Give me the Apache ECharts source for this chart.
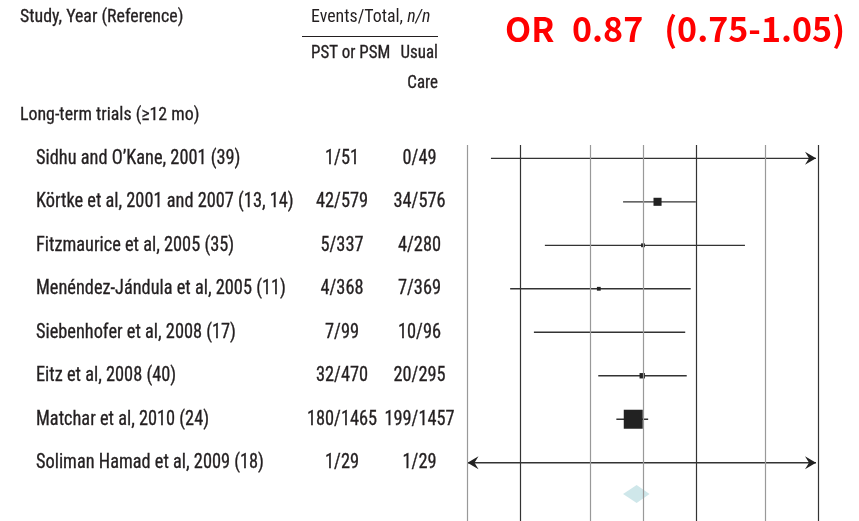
<!DOCTYPE html>
<html><head><meta charset="utf-8">
<script src="https://cdn.jsdelivr.net/npm/echarts@6/dist/echarts.min.js"></script>
<style>html,body{margin:0;padding:0;background:#fff}#c{width:859px;height:521px}</style>
</head><body><div id="c"></div>
<script>
const studies = ["Sidhu and O\u2019Kane, 2001 (39)","K\u00f6rtke et al, 2001 and 2007 (13, 14)","Fitzmaurice et al, 2005 (35)","Men\u00e9ndez-J\u00e1ndula et al, 2005 (11)","Siebenhofer et al, 2008 (17)","Eitz et al, 2008 (40)","Matchar et al, 2010 (24)","Soliman Hamad et al, 2009 (18)"];
const pstEvents = [1,42,5,4,7,32,180,1];
const pstTotal = [51,579,337,368,99,470,1465,29];
const ucEvents = [0,34,4,7,10,20,199,1];
const ucTotal = [49,576,280,369,96,295,1457,29];
const estimates = [null,1.21,1.0,0.56,null,0.99,0.88,null];
const ciLow = [0.136,0.77,0.276,0.175,0.239,0.556,0.705,0.06];
const ciHigh = [60,2.0,3.81,1.87,1.74,1.775,1.07,16.8];
const weights = [0,18,4,4,0,8,100,0];
const pooledOR = 0.92, pooledLow = 0.77, pooledHigh = 1.09;
const refLines = [0.1,0.2,0.5,1,2,5,10];
const titleParts = ["OR", "0.87", "(0.75-1.05)"];

const AX_MIN = 0.1, AX_MAX = 10;
const FAM = '"Liberation Sans Narrow", "Roboto Condensed", Roboto, sans-serif';
const rowFont = '19.5px ' + FAM;
const headFont = '19px ' + FAM;
const subFont = '18px ' + FAM;
const SX = 0.94;
const TXT = '#231f20';
const TITLE_FONT = 'bold 34px "Noto Sans CJK KR", "Noto Sans", sans-serif';
const lineColor = ['#999','#333','#999','#999','#333','#999','#333'];

const chart = echarts.init(document.getElementById('c'), null, {renderer:'canvas'});
const clamp = v => Math.max(AX_MIN, Math.min(AX_MAX, v));

function arrow(tx, y, dir){
  return {type:'polygon', shape:{points:[[tx,y],[tx-dir*11,y-6.5],[tx-dir*7,y],[tx-dir*11,y+6.5]]}, style:{fill:'#222'}};
}
function txt(text, x, y, align, font){
  return {type:'text', x:x, y:y, scaleX:SX, silent:true,
    style:{text:text, x:0, y:0, font:font||rowFont, fill:TXT, stroke:TXT, lineWidth:0.3, verticalAlign:'middle', align:align||'left'}};
}

const option = {
  animation:false,
  grid:{left:467.5, right:40.5, top:145, bottom:0},
  xAxis:{type:'log', logBase:10, min:AX_MIN, max:AX_MAX, show:false},
  yAxis:{type:'value', inverse:true, min:-0.306, max:8.34, show:false},
  series:[
    {
      type:'line', data:[], silent:true,
      markLine:{symbol:'none', silent:true, label:{show:false},
        data: refLines.map((v,i)=>({xAxis:v, lineStyle:{color:lineColor[i], width:1.2, type:'solid'}}))}
    },
    {
      type:'custom', clip:false, silent:true,
      data: studies.map((s,i)=>[ciLow[i], i]),
      encode:{x:0,y:1},
      renderItem:function(params, api){
        const i = params.dataIndex;
        const y = api.coord([1,i])[1];
        const lo = ciLow[i], hi = ciHigh[i];
        const xl = api.coord([clamp(lo), i])[0];
        let xh = api.coord([clamp(hi), i])[0];
        if (hi > AX_MAX) xh -= 2.5;
        const ch = [{type:'line', shape:{x1:xl,y1:y,x2:xh,y2:y}, style:{stroke:'#333', lineWidth:1.3}}];
        if (hi > AX_MAX) ch.push(arrow(xh, y, 1));
        if (lo < AX_MIN) ch.push(arrow(xl, y, -1));
        if (estimates[i] != null && weights[i] > 0){
          const xe = api.coord([estimates[i], i])[0];
          const s = 1.9*Math.sqrt(weights[i]);
          ch.push({type:'rect', shape:{x:xe-s/2, y:y-s/2, width:s, height:s}, style:{fill:'#222'}});
        }
        return {type:'group', children:ch};
      }
    },
    {
      type:'custom', clip:false, silent:true,
      data: studies.map((s,i)=>[1, i]),
      encode:{x:0,y:1},
      renderItem:function(params, api){
        const i = params.dataIndex;
        const y = api.coord([1,i])[1] + 0.5;
        return {type:'group', children:[
          txt(studies[i], 36, y, 'left'),
          txt(pstEvents[i]+'/'+pstTotal[i], 342, y, 'center'),
          txt(ucEvents[i]+'/'+ucTotal[i], 419.5, y, 'center')
        ]};
      }
    },
    {
      type:'custom', clip:false, silent:true,
      data:[[pooledOR, 7.72]],
      encode:{x:0,y:1},
      renderItem:function(params, api){
        const c = api.coord([pooledOR, 7.72]);
        const xl = api.coord([pooledLow, 7.72])[0];
        const xh = api.coord([pooledHigh, 7.72])[0];
        return {type:'polygon', shape:{points:[[xl,c[1]],[c[0],c[1]-9],[xh,c[1]],[c[0],c[1]+9]]}, style:{fill:'#cfe7ea'}};
      }
    }
  ],
  graphic:[
    txt('Study, Year (Reference)', 20, 17.5, 'left', headFont),
    {type:'text', x:311, y:17.5, scaleX:SX, style:{x:0, y:0, verticalAlign:'middle', rich:{a:{font:headFont, fill:TXT}, b:{font:'italic '+headFont, fill:TXT}}, text:'{a|Events/Total, }{b|n/n}'}},
    {type:'line', shape:{x1:302, y1:36.5, x2:438, y2:36.5}, style:{stroke:TXT, lineWidth:1}},
    txt('PST or PSM', 311, 53.5, 'left', subFont),
    txt('Usual', 438, 53.5, 'right', subFont),
    txt('Care', 438, 83.5, 'right', subFont),
    txt('Long-term trials (\u226512 mo)', 20, 115, 'left', headFont),
    {type:'text', x:505, y:29, style:{text:titleParts[0], x:0, y:0, verticalAlign:'middle', font:TITLE_FONT, fill:'#ff0000'}},
    {type:'text', x:572, y:29, style:{text:titleParts[1], x:0, y:0, verticalAlign:'middle', font:TITLE_FONT, fill:'#ff0000'}},
    {type:'text', x:845, y:29, style:{text:titleParts[2], x:0, y:0, verticalAlign:'middle', align:'right', font:TITLE_FONT, fill:'#ff0000'}}
  ]
};
chart.setOption(option);
</script></body></html>
